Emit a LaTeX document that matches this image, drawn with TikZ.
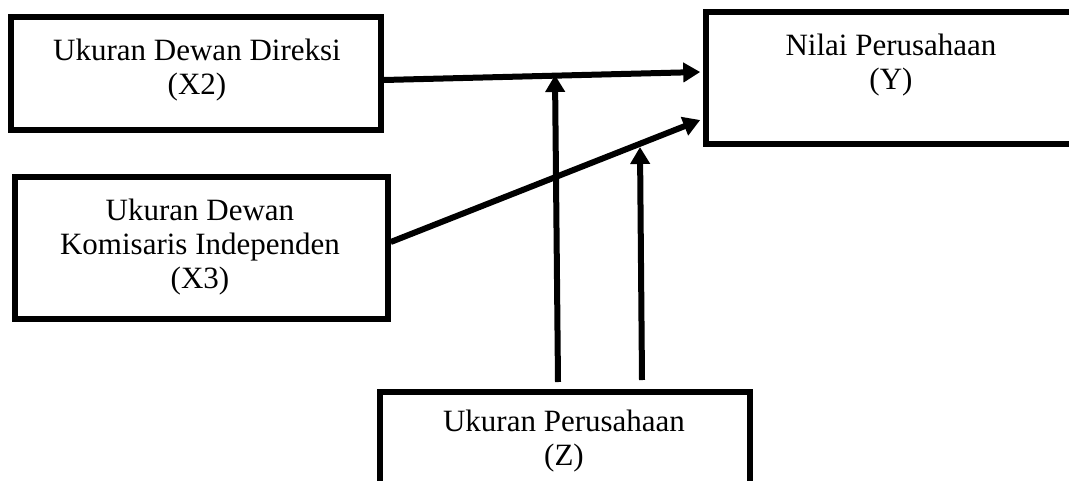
\documentclass[tikz,border=0pt]{standalone}
\usepackage{fontspec}
\setmainfont{Liberation Serif}
\usetikzlibrary{arrows.meta,calc}
\begin{document}
\begin{tikzpicture}[x=1pt,y=-1pt,
  box/.style={draw=black,line width=5.5pt,rectangle,inner sep=0pt},
  lbl/.style={align=center,inner sep=0pt,font=\fontsize{31}{34}\selectfont},
  conn/.style={line width=6pt,-{Triangle[length=17pt,width=19pt]}}]
\useasboundingbox (0,0) rectangle (1069,480);
\clip (0,0) rectangle (1069,480);
% boxes
\node[box,minimum width=370pt,minimum height=113pt] (x2) at (196,73.5) {};
\node[box,minimum width=370pt,minimum height=132pt] (y) at (891,78) {};
\node[box,minimum width=373pt,minimum height=142pt] (x3) at (201.5,248) {};
\node[box,minimum width=370pt,minimum height=120pt] (z) at (565,452) {};
% labels
\node[lbl] (x2t) at (197,70) {Ukuran Dewan Direksi\\(X2)};
\node[lbl] (yt) at (891,65) {Nilai Perusahaan\\(Y)};
\node[lbl] (x3t) at (200,247) {Ukuran Dewan\\Komisaris Independen\\(X3)};
\node[lbl] (zt) at (564,441) {Ukuran Perusahaan\\(Z)};
% connector end points
\coordinate (a1s) at (x2.east |- 0,80);
\coordinate (a1e) at ($(y.west |- 0,72)+(-3,0)$);
\coordinate (a2s) at (x3.east |- 0,242);
\coordinate (a2e) at ($(y.west |- 0,120)+(-3,0)$);
\coordinate (v1s) at (558,382);
\coordinate (v1e) at (555,75);
\coordinate (v2s) at (642,380);
\coordinate (v2e) at (640,147);
% connectors
\draw[conn] (a1s) -- (a1e);
\draw[conn] (a2s) -- (a2e);
\draw[conn] (v1s) -- (v1e);
\draw[conn] (v2s) -- (v2e);
\end{tikzpicture}
\end{document}
